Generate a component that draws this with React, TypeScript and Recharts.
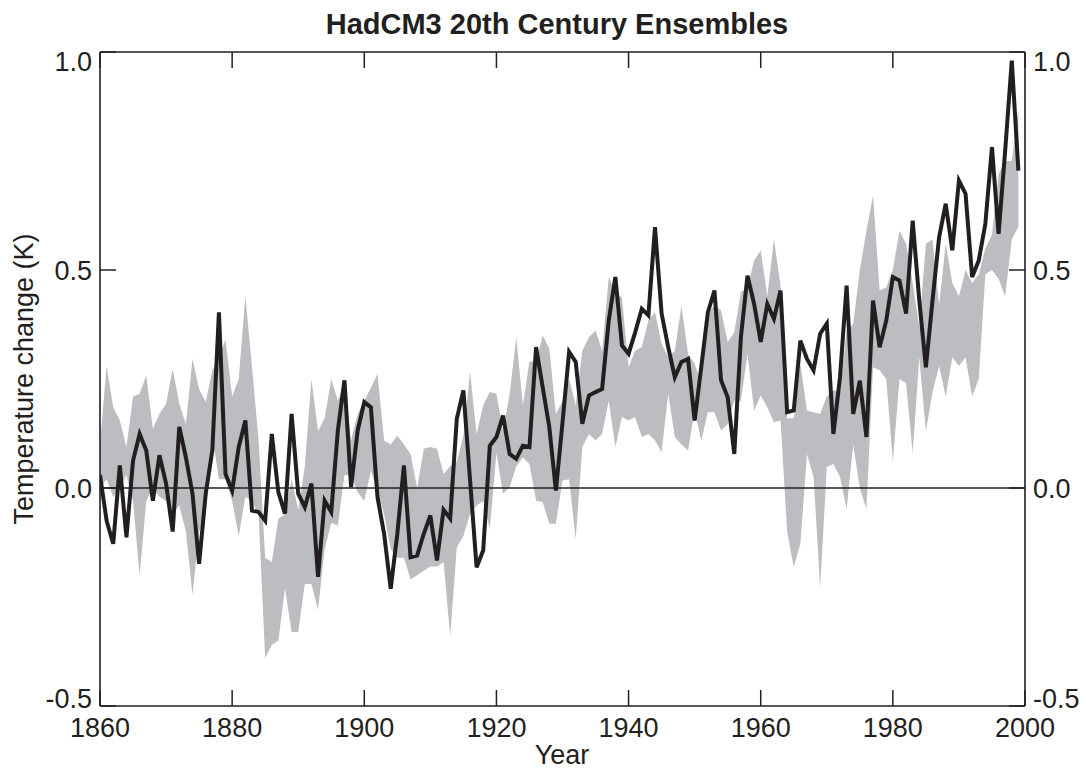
import { ComposedChart, Area, Line, XAxis, YAxis, ReferenceLine } from "recharts";

// annual values, 1860..1999
const FIRST_YEAR = 1860;

// ensemble mean (black line)
const MEAN = [
  0.03, -0.075, -0.128, 0.052, -0.113, 0.063, 0.124, 0.086, -0.029, 0.075,
  0.01, -0.1, 0.14, 0.07, -0.013, -0.174, -0.013, 0.086, 0.403, 0.032,
  -0.006, 0.094, 0.155, -0.052, -0.055, -0.075, 0.124, -0.01, -0.059, 0.17,
  -0.013, -0.044, 0.01, -0.204, -0.029, -0.055, 0.132, 0.247, 0.002, 0.132,
  0.197, 0.185, -0.021, -0.105, -0.231, -0.105, 0.052, -0.159, -0.155, -0.105,
  -0.063, -0.166, -0.05, -0.07, 0.159, 0.224, 0.02, -0.182, -0.143, 0.097,
  0.117, 0.166, 0.078, 0.067, 0.097, 0.094, 0.323, 0.231, 0.14, -0.006,
  0.15, 0.312, 0.289, 0.147, 0.212, 0.22, 0.227, 0.384, 0.484, 0.327,
  0.308, 0.357, 0.411, 0.396, 0.598, 0.4, 0.323, 0.254, 0.289, 0.296,
  0.155, 0.277, 0.403, 0.453, 0.247, 0.208, 0.078, 0.346, 0.487, 0.422,
  0.335, 0.422, 0.388, 0.453, 0.174, 0.178, 0.338, 0.296, 0.27, 0.354,
  0.377, 0.124, 0.254, 0.464, 0.17, 0.246, 0.117, 0.43, 0.323, 0.384,
  0.484, 0.476, 0.4, 0.613, 0.43, 0.277, 0.43, 0.575, 0.652, 0.545,
  0.705, 0.675, 0.484, 0.522, 0.606, 0.782, 0.583, 0.774, 0.98, 0.728,
];

// ensemble spread, lower edge of grey band
const LOWER = [
  0.0, 0.02, -0.02, 0.0, 0.03, -0.03, -0.2, -0.03, 0.0, -0.02,
  -0.03, -0.06, -0.04, -0.1, -0.245, -0.1, -0.06, 0.12, 0.02, 0.02,
  -0.03, -0.11, -0.02, -0.03, -0.06, -0.39, -0.36, -0.35, -0.23, -0.33,
  -0.33, -0.22, -0.22, -0.28, -0.14, -0.08, -0.086, 0.03, 0.03, -0.01,
  -0.03, 0.04, -0.01, -0.06, -0.14, -0.16, -0.16, -0.21, -0.2, -0.19,
  -0.18, -0.18, -0.17, -0.34, -0.136, -0.11, -0.06, -0.04, -0.03, -0.094,
  0.08, -0.013, 0.002, 0.05, 0.07, 0.055, -0.029, -0.032, -0.082, -0.082,
  0.017, 0.02, -0.117, 0.094, 0.124, 0.109, 0.124, 0.2, 0.094, 0.163,
  0.155, 0.163, 0.117, 0.124, 0.109, 0.082, 0.216, 0.117, 0.1, 0.086,
  0.178, 0.109, 0.174, 0.174, 0.132, 0.147, 0.2, 0.2, 0.308, 0.178,
  0.212, 0.185, 0.151, 0.155, -0.1, -0.182, -0.128, 0.078, 0.025, -0.228,
  0.048, 0.055, 0.025, -0.048, 0.1, 0.0, -0.048, 0.277, 0.27, 0.25,
  0.06, 0.25, 0.24, 0.08, 0.3, 0.13, 0.22, 0.28, 0.21, 0.3,
  0.28, 0.3, 0.21, 0.25, 0.49, 0.5, 0.48, 0.44, 0.57, 0.6,
];

// upper edge of grey band
const UPPER = [
  0.1, 0.28, 0.185, 0.155, 0.094, 0.21, 0.216, 0.258, 0.136, 0.17,
  0.193, 0.273, 0.193, 0.147, 0.296, 0.227, 0.197, 0.27, 0.3, 0.34,
  0.21, 0.25, 0.44, 0.28, 0.11, -0.16, -0.17, -0.07, -0.06, 0.02,
  -0.05, 0.05, 0.25, 0.13, 0.16, 0.25, 0.2, 0.24, 0.11, 0.17,
  0.2, 0.23, 0.262, 0.109, 0.1, 0.12, 0.1, 0.078, 0.0, 0.09,
  0.094, 0.09, 0.032, 0.05, 0.06, 0.12, 0.266, 0.124, 0.19, 0.22,
  0.216, 0.13, 0.216, 0.346, 0.19, 0.29, 0.29, 0.35, 0.32, 0.17,
  0.2, 0.25, 0.19, 0.315, 0.346, 0.361, 0.315, 0.484, 0.45, 0.437,
  0.277, 0.315, 0.323, 0.384, 0.403, 0.33, 0.3, 0.315, 0.418, 0.308,
  0.285, 0.24, 0.4, 0.42, 0.407, 0.335, 0.357, 0.449, 0.46, 0.522,
  0.545, 0.44, 0.571, 0.464, 0.16, 0.16, 0.285, 0.178, 0.174, 0.17,
  0.21, 0.224, 0.22, 0.36, 0.377, 0.5, 0.59, 0.671, 0.453, 0.46,
  0.5, 0.59, 0.56, 0.47, 0.37, 0.56, 0.57, 0.42, 0.56, 0.47,
  0.44, 0.5, 0.47, 0.49, 0.55, 0.58, 0.72, 0.75, 0.75, 0.87,
];

const X_TICKS = [1860, 1880, 1900, 1920, 1940, 1960, 1980, 2000];
const Y_TICKS = [-0.5, 0, 0.5, 1.0];

const TITLE = "HadCM3 20th Century Ensembles";
const X_TITLE = "Year";
const Y_TITLE = "Temperature change (K)";

const data = MEAN.map((m, i) => ({
  year: FIRST_YEAR + i,
  mean: m,
  band: [LOWER[i], UPPER[i]],
}));

const INK = "#231f20";
const BAND = "#bcbdc0";
const FONT = "'Liberation Sans', Arial, Helvetica, sans-serif";
const W = 1087;
const H = 772;

// end labels sit inside the frame like the original plot
const nudge = (v: number) => (v === 1 ? 9 : v === -0.5 ? -8 : 0);

const BottomTick = (props: any) => (
  <text x={props.payload.coordinate} y={737} textAnchor="middle" fontSize={27} fontFamily={FONT} fill={INK}>
    {props.payload.value}
  </text>
);

const LeftTick = (props: any) => (
  <text x={92} y={props.payload.coordinate + 9.7 + nudge(props.payload.value)} textAnchor="end" fontSize={27} fontFamily={FONT} fill={INK}>
    {Number(props.payload.value).toFixed(1)}
  </text>
);

const RightTick = (props: any) => (
  <text x={1033} y={props.payload.coordinate + 9.7 + nudge(props.payload.value)} textAnchor="start" fontSize={27} fontFamily={FONT} fill={INK}>
    {Number(props.payload.value).toFixed(1)}
  </text>
);

const NoTick = () => <g />;

const axisLine = { stroke: INK, strokeWidth: 1.6 };
const tickLine = { stroke: INK, strokeWidth: 1.5 };

export default function App() {
  return (
    <div style={{ position: "absolute", left: 0, top: 0, width: W, height: H, background: "#fff" }}>
      <ComposedChart width={W} height={H} data={data} margin={{ top: 32, right: 2, bottom: 26, left: 40 }}>
        <XAxis
          dataKey="year"
          type="number"
          domain={[1860, 2000]}
          ticks={X_TICKS}
          interval={0}
          allowDataOverflow
          height={40}
          tickSize={-16}
          tickMargin={0}
          axisLine={axisLine}
          tickLine={tickLine}
          tick={<BottomTick />}
        />
        <XAxis
          xAxisId="top"
          orientation="top"
          dataKey="year"
          type="number"
          domain={[1860, 2000]}
          ticks={X_TICKS}
          interval={0}
          allowDataOverflow
          height={20}
          tickSize={-16}
          axisLine={axisLine}
          tickLine={tickLine}
          tick={<NoTick />}
        />
        <YAxis
          type="number"
          domain={[-0.5, 1.0]}
          ticks={Y_TICKS}
          interval={0}
          allowDataOverflow
          width={60}
          tickSize={-16}
          axisLine={axisLine}
          tickLine={tickLine}
          tick={<LeftTick />}
        />
        <YAxis
          yAxisId="right"
          orientation="right"
          type="number"
          domain={[-0.5, 1.0]}
          ticks={Y_TICKS}
          interval={0}
          allowDataOverflow
          width={60}
          tickSize={-16}
          axisLine={axisLine}
          tickLine={tickLine}
          tick={<RightTick />}
        />
        <Area
          dataKey="band"
          type="linear"
          stroke="none"
          fill={BAND}
          fillOpacity={1}
          dot={false}
          activeDot={false}
          isAnimationActive={false}
        />
        <ReferenceLine y={0} stroke={INK} strokeWidth={1.5} />
        <Line
          dataKey="mean"
          type="linear"
          stroke={INK}
          strokeWidth={4}
          strokeLinejoin="miter"
          dot={false}
          activeDot={false}
          isAnimationActive={false}
        />
      </ComposedChart>
      <svg width={W} height={H} style={{ position: "absolute", left: 0, top: 0, pointerEvents: "none" }}>
        <text x={557} y={34} textAnchor="middle" fontSize={29} fontWeight="bold" fontFamily={FONT} fill={INK}>
          {TITLE}
        </text>
        <text x={562} y={764} textAnchor="middle" fontSize={27} fontFamily={FONT} fill={INK}>
          {X_TITLE}
        </text>
        <text transform="translate(33,379) rotate(-90)" textAnchor="middle" fontSize={27} fontFamily={FONT} fill={INK}>
          {Y_TITLE}
        </text>
      </svg>
    </div>
  );
}
